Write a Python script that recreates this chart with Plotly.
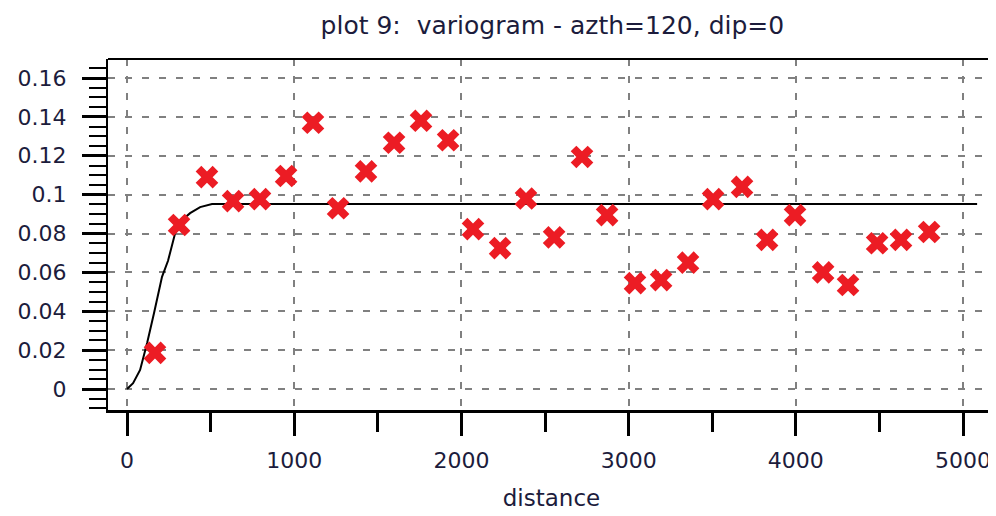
import plotly.graph_objects as go

# experimental variogram points (lag distance, gamma)
lag_distance = [167, 311, 478, 634, 795, 951, 1112, 1262, 1429, 1597, 1758, 1920,
                2069, 2231, 2386, 2554, 2721, 2871, 3038, 3194, 3355, 3505, 3678,
                3828, 3995, 4163, 4312, 4486, 4629, 4797]
gamma_values = [0.0186, 0.0844, 0.109, 0.0967, 0.0977, 0.1096, 0.137, 0.093, 0.112,
                0.1267, 0.138, 0.128, 0.0823, 0.0725, 0.098, 0.078, 0.1194, 0.0895,
                0.0545, 0.056, 0.065, 0.0977, 0.104, 0.0767, 0.0895, 0.060, 0.0535,
                0.075, 0.0767, 0.0808]

# fitted model curve
model_distance = [0, 36, 78, 120, 161, 209, 245, 287, 330, 377, 437, 508, 5084]
model_gamma = [0.0, 0.003, 0.0098, 0.0237, 0.039, 0.0577, 0.066, 0.080, 0.087,
               0.0905, 0.0936, 0.0952, 0.0952]

y_tick_vals = [0, 0.02, 0.04, 0.06, 0.08, 0.1, 0.12, 0.14, 0.16]
y_tick_text = ["0", "0.02", "0.04", "0.06", "0.08", "0.1", "0.12", "0.14", "0.16"]
x_tick_vals = [0, 1000, 2000, 3000, 4000, 5000]
x_tick_text = ["0", "1000", "2000", "3000", "4000", "5000"]

title_text = "plot 9:  variogram - azth=120, dip=0"
x_title = "distance"

FONT = "DejaVu Sans"
TXT = "#1c1c3c"
GRID = "#808080"

fig = go.Figure()
fig.add_trace(go.Scatter(
    x=model_distance, y=model_gamma, mode="lines",
    line=dict(color="black", width=2), hoverinfo="skip", showlegend=False))
fig.add_trace(go.Scatter(
    x=lag_distance, y=gamma_values, mode="markers",
    marker=dict(symbol="x", size=20, color="#ec1c24", line=dict(width=0)),
    showlegend=False))

# page body has an 8px margin, so the figure is sized/offset to compensate
fig.update_layout(
    width=988, height=508,
    margin=dict(l=100, r=1, t=51, b=106, autoexpand=False),
    paper_bgcolor="white", plot_bgcolor="white",
    title=dict(text=title_text, x=0.551, xanchor="center", y=0.966, yanchor="middle",
               font=dict(family=FONT, size=25, color=TXT)),
    font=dict(family=FONT, color=TXT),
)

fig.update_xaxes(
    range=[-114, 5191], tickvals=x_tick_vals, ticktext=x_tick_text,
    showgrid=True, gridcolor=GRID, gridwidth=2, griddash="7px,10px",
    zeroline=False, showline=True, linecolor="black", linewidth=3,
    ticks="outside", ticklen=23, tickwidth=3, tickcolor="black",
    minor=dict(dtick=500, tick0=0, ticks="outside", ticklen=19, tickwidth=3,
               tickcolor="black", showgrid=False),
    tickfont=dict(family=FONT, size=22, color=TXT),
    ticklabelstandoff=6,
    title=dict(text=x_title, font=dict(family=FONT, size=23, color=TXT), standoff=18),
)
fig.update_yaxes(
    range=[-0.0108, 0.1698], tickvals=y_tick_vals, ticktext=y_tick_text,
    showgrid=True, gridcolor=GRID, gridwidth=2, griddash="7px,10px",
    zeroline=False, showline=True, linecolor="black", linewidth=2,
    ticks="outside", ticklen=24, tickwidth=3, tickcolor="black",
    minor=dict(dtick=0.005, tick0=0, ticks="outside", ticklen=17, tickwidth=2,
               tickcolor="black", showgrid=False),
    tickfont=dict(family=FONT, size=22, color=TXT),
    ticklabelstandoff=11,
)

# top frame line
fig.add_shape(type="line", xref="paper", yref="paper", x0=0, x1=1, y0=1, y1=1,
              line=dict(color="black", width=2))

fig.write_html("out.html")
